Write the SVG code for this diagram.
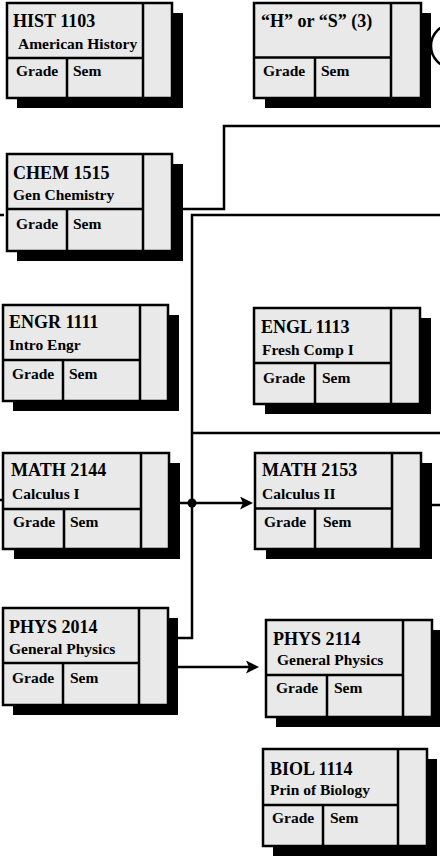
<svg xmlns="http://www.w3.org/2000/svg" width="440" height="857" viewBox="0 0 440 857">
<style>
.sh{fill:#000}
.bx{fill:#e9e9e9;stroke:#000;stroke-width:2.5}
.dv{stroke:#000;stroke-width:2.5;fill:none}
.t{font-family:"Liberation Serif","Times New Roman",serif;font-weight:bold;fill:#000}
.t1{font-size:18px}
.t2{font-size:15.5px}
.t3{font-size:15.5px}
.ln{stroke:#000;stroke-width:2.5;fill:none}
</style>
<defs>
<marker id="ah" markerUnits="userSpaceOnUse" markerWidth="14" markerHeight="14" refX="10" refY="6.5" orient="auto">
<path d="M0,0 L13,6.5 L0,13 L3,6.5 Z" fill="#000"/>
</marker>
</defs>
<rect width="440" height="857" fill="#fff"/>

<g id="connectors">
<path class="ln" d="M183 209 H224 V126 H440"/>
<path class="ln" d="M178 638 H192 V215 H440"/>
<path class="ln" d="M192 433 H440"/>
<path class="ln" d="M180 503 H250" marker-end="url(#ah)"/>
<circle cx="192" cy="503" r="4.5" fill="#000"/>
<path class="ln" d="M178 667 H256" marker-end="url(#ah)"/>
<path class="ln" d="M432 505 H440"/>
<path class="ln" d="M0 215 H4"/>
<path class="ln" d="M0 500 H4"/>
<circle cx="453" cy="46" r="22" fill="none" stroke="#000" stroke-width="2.5"/>
</g>

<g id="hist1103">
<rect class="sh" x="17" y="13" width="166" height="95"/>
<rect class="bx" x="7" y="3" width="165" height="95"/>
<path class="dv" d="M143 3 V98 M7 58 H143 M67 58 V98"/>
<text class="t t1" x="13" y="26.5">HIST 1103</text>
<text class="t t2" x="18" y="49">American History</text>
<text class="t t3" x="16" y="76">Grade</text>
<text class="t t3" x="73" y="76">Sem</text>
</g>

<g id="hs3">
<rect class="sh" x="265" y="13" width="166" height="95"/>
<rect class="bx" x="254" y="3" width="167" height="95"/>
<path class="dv" d="M391 3 V98 M254 57.5 H391 M315 57.5 V98"/>
<text class="t t1" x="261" y="26.5">“H” or “S” (3)</text>
<text class="t t3" x="263" y="76">Grade</text>
<text class="t t3" x="321" y="76">Sem</text>
</g>

<g id="chem1515">
<rect class="sh" x="17" y="164" width="166" height="97"/>
<rect class="bx" x="7" y="154" width="165" height="97"/>
<path class="dv" d="M143 154 V251 M7 209 H143 M67 209 V251"/>
<text class="t t1" x="13" y="179">CHEM 1515</text>
<text class="t t2" x="13" y="200">Gen Chemistry</text>
<text class="t t3" x="16" y="229">Grade</text>
<text class="t t3" x="73" y="229">Sem</text>
</g>

<g id="engr1111">
<rect class="sh" x="13" y="315" width="166" height="96"/>
<rect class="bx" x="3" y="305" width="165" height="96"/>
<path class="dv" d="M140 305 V401 M3 360 H140 M63 360 V401"/>
<text class="t t1" x="9" y="328">ENGR 1111</text>
<text class="t t2" x="9" y="350">Intro Engr</text>
<text class="t t3" x="12" y="379">Grade</text>
<text class="t t3" x="69" y="379">Sem</text>
</g>

<g id="engl1113">
<rect class="sh" x="265" y="318" width="166" height="96"/>
<rect class="bx" x="254" y="308" width="166" height="96"/>
<path class="dv" d="M391 308 V404 M254 363 H391 M315 363 V404"/>
<text class="t t1" x="261" y="333">ENGL 1113</text>
<text class="t t2" x="262" y="355">Fresh Comp I</text>
<text class="t t3" x="263" y="383">Grade</text>
<text class="t t3" x="322" y="383">Sem</text>
</g>

<g id="math2144">
<rect class="sh" x="14" y="463" width="166" height="96"/>
<rect class="bx" x="3" y="453" width="166" height="96"/>
<path class="dv" d="M141 453 V549 M3 509 H141 M64 509 V549"/>
<text class="t t1" x="11" y="476">MATH 2144</text>
<text class="t t2" x="12" y="499">Calculus I</text>
<text class="t t3" x="13" y="527">Grade</text>
<text class="t t3" x="70" y="527">Sem</text>
</g>

<g id="math2153">
<rect class="sh" x="266" y="463" width="166" height="96"/>
<rect class="bx" x="255" y="453" width="166" height="96"/>
<path class="dv" d="M392 453 V549 M255 508.5 H392 M315 508.5 V549"/>
<text class="t t1" x="262" y="476">MATH 2153</text>
<text class="t t2" x="262" y="499">Calculus II</text>
<text class="t t3" x="264" y="527">Grade</text>
<text class="t t3" x="323" y="527">Sem</text>
</g>

<g id="phys2014">
<rect class="sh" x="13" y="618" width="165" height="97"/>
<rect class="bx" x="3" y="608" width="165" height="97"/>
<path class="dv" d="M139 608 V705 M3 663 H139 M63 663 V705"/>
<text class="t t1" x="9" y="633">PHYS 2014</text>
<text class="t t2" x="9" y="654">General Physics</text>
<text class="t t3" x="12" y="683">Grade</text>
<text class="t t3" x="70" y="683">Sem</text>
</g>

<g id="phys2114">
<rect class="sh" x="276" y="630" width="166" height="97"/>
<rect class="bx" x="266" y="620" width="166" height="97"/>
<path class="dv" d="M403 620 V717 M266 675 H403 M327 675 V717"/>
<text class="t t1" x="273" y="645">PHYS 2114</text>
<text class="t t2" x="277" y="665">General Physics</text>
<text class="t t3" x="276" y="693">Grade</text>
<text class="t t3" x="334" y="693">Sem</text>
</g>

<g id="biol1114">
<rect class="sh" x="273" y="759" width="164" height="97"/>
<rect class="bx" x="263" y="749" width="164" height="97"/>
<path class="dv" d="M398 749 V846 M263 805 H398 M323 805 V846"/>
<text class="t t1" x="270" y="775">BIOL 1114</text>
<text class="t t2" x="270" y="795">Prin of Biology</text>
<text class="t t3" x="272" y="823">Grade</text>
<text class="t t3" x="330" y="823">Sem</text>
</g>
</svg>
